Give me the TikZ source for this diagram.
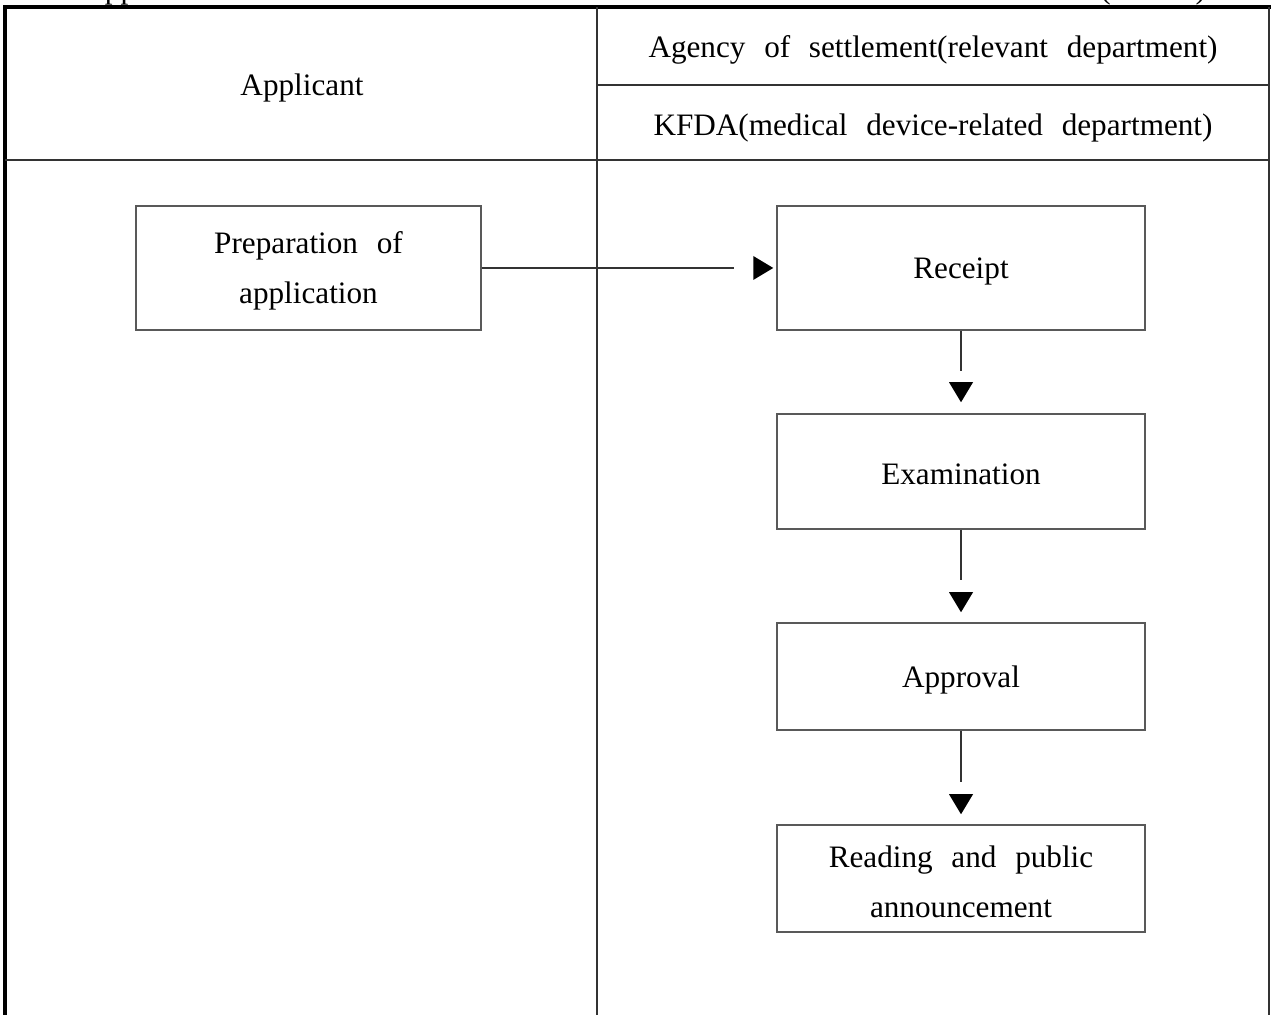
\documentclass[tikz,border=0pt]{standalone}
\usepackage{fontspec}
\setmainfont[WordSpace=2.4]{Liberation Serif}
\usetikzlibrary{calc}
\begin{document}
\begin{tikzpicture}[x=0.5pt,y=-0.5pt,
  txt/.style={font=\fontsize{15.6}{25}\selectfont, align=center, inner sep=0pt},
  heading/.style={txt, yshift=-1.5pt},
  heavy/.style={line width=1.6pt, black},
  rule/.style={line width=0.7pt, black!80},
  stepbox/.style={draw=black!65, line width=0.75pt, inner sep=0pt},
  steptext/.style={label={[heading]center:#1}},
  link/.style={draw=black!80, line width=0.6pt, shorten >=21pt},
  tipfill/.style={fill=black}]
\useasboundingbox (0,0) rectangle (1271,1015);

% caption line above the table, cut by the page edge
\begin{scope}
  \clip (0,0) rectangle (1271,8);
  \node[txt, anchor=base west] (cap) at (82,-1.5) {Application};
  \node[txt, anchor=base west] (capr) at (1100,-1.5) {(KFDA)};
\end{scope}

% table frame
\draw[heavy] (5,1015) -- (5,7) -- (1271,7);
\draw[rule, line width=0.9pt] (1269,7) -- (1269,1015);
\draw[rule] (5,160) -- (1269,160);
\draw[rule] (597,85) -- (1269,85);
\draw[rule] (597,7) -- (597,1015);

% column headings
\node[heading] (hApp) at (302,85) {Applicant};
\node[heading] (hAgency) at (933,47) {Agency of settlement(relevant department)};
\node[heading] (hKfda) at (933,125) {KFDA(medical device-related department)};

% process steps
\node[stepbox, minimum width=172.5pt, minimum height=62pt,
      steptext={Preparation of\\application}] (prep) at (308.5,268) {};
\node[stepbox, minimum width=184pt, minimum height=62pt,
      steptext={Receipt}] (receipt) at (961,268) {};
\node[stepbox, minimum width=184pt, minimum height=57.5pt,
      steptext={Examination}] (exam) at (961,471.5) {};
\node[stepbox, minimum width=184pt, minimum height=53.5pt,
      steptext={Approval}] (appr) at (961,676.5) {};
\node[stepbox, minimum width=184pt, minimum height=53.5pt,
      steptext={Reading and public\\announcement}] (read) at (961,878.5) {};

% connectors: line stopping short, then a separate solid triangle
\draw[link] (prep.east) -- (receipt.west);
\fill[tipfill] ($(receipt.west)+(-3,0)$) -- ++(-20,-12) -- ++(0,24) -- cycle;

\draw[link] (receipt.south) -- (exam.north);
\fill[tipfill] ($(exam.north)+(0,-11)$) -- ++(-12,-20) -- ++(24,0) -- cycle;

\draw[link] (exam.south) -- (appr.north);
\fill[tipfill] ($(appr.north)+(0,-10)$) -- ++(-12,-20) -- ++(24,0) -- cycle;

\draw[link] (appr.south) -- (read.north);
\fill[tipfill] ($(read.north)+(0,-10)$) -- ++(-12,-20) -- ++(24,0) -- cycle;
\end{tikzpicture}
\end{document}
